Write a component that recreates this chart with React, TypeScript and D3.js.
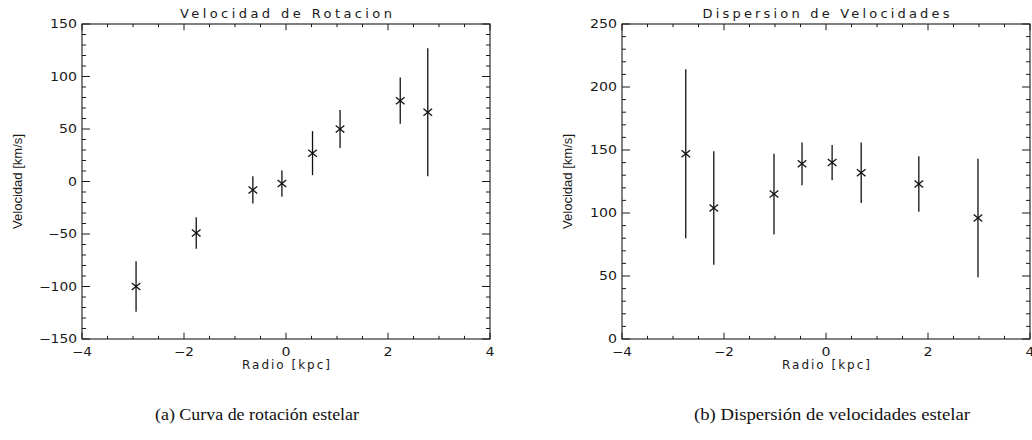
import React from "react";
import * as d3 from "d3";

// ---- data ----
const rotRadius = [-2.94, -1.76, -0.65, -0.08, 0.52, 1.06, 2.24, 2.78];
const rotVelocity = [-100, -49, -8, -2, 27, 50, 77, 66];
const rotError = [24, 15, 13, 12.5, 21, 18, 22, 61];

const dispRadius = [-2.75, -2.2, -1.02, -0.47, 0.12, 0.69, 1.82, 2.98];
const dispVelocity = [147, 104, 115, 139, 140, 132, 123, 96];
const dispError = [67, 45, 32, 17, 14, 24, 22, 47];

const xDomain: [number, number] = [-4, 4];
const rotDomain: [number, number] = [-150, 150];
const dispDomain: [number, number] = [0, 250];

const titles = ["Velocidad de Rotacion", "Dispersion de Velocidades"];
const xLabel = "Radio [kpc]";
const yLabel = "Velocidad [km/s]";
const captions = ["(a)  Curva de rotación estelar", "(b)  Dispersión de velocidades estelar"];

const W = 1032;
const H = 440;
const HFONT = "'DejaVu Sans', sans-serif";
const INK = "#1a1a1a";

function labelLen(s: string): number {
  let w = 0;
  for (const c of s) w += c === "−" || c === "-" ? 11 : 9;
  return w;
}

const fmt = (v: number) => d3.format("d")(v);

type PanelProps = {
  x0: number;
  x1: number;
  y0: number;
  y1: number;
  yDomain: [number, number];
  xs: number[];
  vs: number[];
  es: number[];
  title: string;
  titleLen: number;
  yLabelX: number;
};

function Panel(p: PanelProps) {
  const x = d3.scaleLinear().domain(xDomain).range([p.x0, p.x1]);
  const y = d3.scaleLinear().domain(p.yDomain).range([p.y1, p.y0]);
  const xMajor = x.ticks(4);
  const xMinor = d3.range(xDomain[0], xDomain[1] + 0.001, 0.5);
  const yMajor = d3.range(p.yDomain[0], p.yDomain[1] + 0.001, 50);
  const yMinor = d3.range(p.yDomain[0], p.yDomain[1] + 0.001, 10);
  const isMajorX = (v: number) => Math.abs(v / 2 - Math.round(v / 2)) < 1e-6;
  const isMajorY = (v: number) => Math.abs(v / 50 - Math.round(v / 50)) < 1e-6;
  const ylx = 8;
  const xlx = 6.3;
  const cx = (p.x0 + p.x1) / 2;
  const cy = (p.y0 + p.y1) / 2;
  const mh = 4.3;
  const mv = 3.5;
  return (
    <g>
      <rect x={p.x0} y={p.y0} width={p.x1 - p.x0} height={p.y1 - p.y0} fill="none" stroke={INK} strokeWidth={1.1} />
      {xMinor.map((v, i) => {
        const L = isMajorX(v) ? xlx : xlx / 2;
        const X = x(v);
        return (
          <g key={"xt" + i}>
            <line x1={X} x2={X} y1={p.y1} y2={p.y1 - L} stroke={INK} strokeWidth={1} />
            <line x1={X} x2={X} y1={p.y0} y2={p.y0 + L} stroke={INK} strokeWidth={1} />
          </g>
        );
      })}
      {yMinor.map((v, i) => {
        const L = isMajorY(v) ? ylx : ylx / 2;
        const Y = y(v);
        return (
          <g key={"yt" + i}>
            <line x1={p.x0} x2={p.x0 + L} y1={Y} y2={Y} stroke={INK} strokeWidth={1} />
            <line x1={p.x1} x2={p.x1 - L} y1={Y} y2={Y} stroke={INK} strokeWidth={1} />
          </g>
        );
      })}
      {xMajor.map((v, i) => {
        const s = fmt(v);
        return (
          <text
            key={"xl" + i}
            x={x(v)}
            y={352}
            dy="0.36em"
            textAnchor="middle"
            fontFamily={HFONT}
            fontSize={12}
            fill={INK}
            textLength={labelLen(s)}
            lengthAdjust="spacingAndGlyphs"
          >
            {s}
          </text>
        );
      })}
      {yMajor.map((v, i) => {
        const s = fmt(v);
        return (
          <text
            key={"yl" + i}
            x={p.x0 - 5}
            y={y(v)}
            dy="0.36em"
            textAnchor="end"
            fontFamily={HFONT}
            fontSize={12}
            fill={INK}
            textLength={labelLen(s)}
            lengthAdjust="spacingAndGlyphs"
          >
            {s}
          </text>
        );
      })}
      <text
        x={cx}
        y={18}
        textAnchor="middle"
        fontFamily={HFONT}
        fontSize={13}
        fill={INK}
        textLength={p.titleLen}
        lengthAdjust="spacing"
      >
        {p.title}
      </text>
      <text x={cx} y={369} textAnchor="middle" fontFamily={HFONT} fontSize={12} fill={INK} textLength={88} lengthAdjust="spacing">
        {xLabel}
      </text>
      <text
        transform={`translate(${p.yLabelX},${cy}) rotate(-90)`}
        textAnchor="middle"
        fontFamily="'Liberation Sans', Arial, sans-serif"
        fontSize={12.5}
        fill={INK}
        textLength={95}
        lengthAdjust="spacingAndGlyphs"
      >
        {yLabel}
      </text>
      {p.xs.map((xv, i) => {
        const X = x(xv);
        const Y = y(p.vs[i]);
        return (
          <g key={"pt" + i} stroke="#111" strokeWidth={1.3}>
            <line x1={X} x2={X} y1={y(p.vs[i] - p.es[i])} y2={y(p.vs[i] + p.es[i])} />
            <line x1={X - mh} x2={X + mh} y1={Y - mv} y2={Y + mv} />
            <line x1={X - mh} x2={X + mh} y1={Y + mv} y2={Y - mv} />
          </g>
        );
      })}
    </g>
  );
}

export default function App() {
  return (
    <svg
      width={W}
      height={H}
      viewBox={`0 0 ${W} ${H}`}
      style={{ position: "absolute", left: 0, top: 0, background: "#fff" }}
    >
      <rect width={W} height={H} fill="#fff" />
      <Panel
        x0={82}
        x1={490}
        y0={24}
        y1={339}
        yDomain={rotDomain}
        xs={rotRadius}
        vs={rotVelocity}
        es={rotError}
        title={titles[0]}
        titleLen={212}
        yLabelX={22}
      />
      <Panel
        x0={622}
        x1={1030}
        y0={24}
        y1={339}
        yDomain={dispDomain}
        xs={dispRadius}
        vs={dispVelocity}
        es={dispError}
        title={titles[1]}
        titleLen={247}
        yLabelX={572}
      />
      <text x={257} y={420} textAnchor="middle" fontFamily="'Liberation Serif', 'DejaVu Serif', serif" fontSize={17} fill="#111" textLength={204} lengthAdjust="spacingAndGlyphs">
        {captions[0]}
      </text>
      <text x={832} y={420} textAnchor="middle" fontFamily="'Liberation Serif', 'DejaVu Serif', serif" fontSize={17} fill="#111" textLength={276} lengthAdjust="spacingAndGlyphs">
        {captions[1]}
      </text>
    </svg>
  );
}
